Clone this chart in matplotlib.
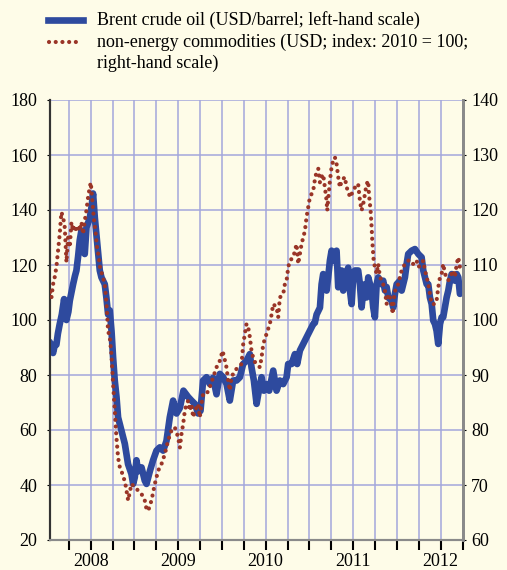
import numpy as np
import matplotlib.pyplot as plt
from matplotlib.lines import Line2D

# Brent crude oil, USD per barrel (left-hand scale), time in decimal years
brent_t = [2008.032, 2008.050, 2008.070, 2008.090, 2008.108, 2008.125, 2008.146, 2008.170,
           2008.196, 2008.210, 2008.223, 2008.245, 2008.261, 2008.280, 2008.299, 2008.320,
           2008.337, 2008.356, 2008.375, 2008.394, 2008.413, 2008.432, 2008.452, 2008.489,
           2008.509, 2008.527, 2008.547, 2008.566, 2008.584, 2008.604, 2008.623, 2008.661,
           2008.680, 2008.699, 2008.718, 2008.738, 2008.756, 2008.775, 2008.795, 2008.813,
           2008.852, 2008.890, 2008.927, 2008.966, 2008.985, 2009.004, 2009.023, 2009.042,
           2009.081, 2009.118, 2009.138, 2009.176, 2009.213, 2009.252, 2009.290, 2009.328,
           2009.366, 2009.404, 2009.442, 2009.481, 2009.519, 2009.560, 2009.614, 2009.652,
           2009.690, 2009.728, 2009.755, 2009.785, 2009.824, 2009.862, 2009.899, 2009.938,
           2009.976, 2010.014, 2010.053, 2010.090, 2010.128, 2010.167, 2010.205, 2010.242,
           2010.281, 2010.319, 2010.338, 2010.365, 2010.396, 2010.422, 2010.453, 2010.479,
           2010.510, 2010.540, 2010.586, 2010.624, 2010.662, 2010.700, 2010.739, 2010.757,
           2010.796, 2010.834, 2010.860, 2010.891, 2010.929, 2010.967, 2011.005, 2011.043,
           2011.062, 2011.082, 2011.120, 2011.139, 2011.157, 2011.177, 2011.196, 2011.214,
           2011.234, 2011.253, 2011.272, 2011.291, 2011.310, 2011.329, 2011.348, 2011.368,
           2011.386, 2011.405, 2011.443, 2011.463, 2011.482, 2011.500, 2011.520, 2011.557,
           2011.577, 2011.596, 2011.615, 2011.634, 2011.653, 2011.672, 2011.711, 2011.729,
           2011.748, 2011.768, 2011.786, 2011.825, 2011.843, 2011.863, 2011.882, 2011.901,
           2011.939, 2011.958, 2011.977, 2011.997, 2012.034, 2012.054, 2012.072, 2012.091,
           2012.111, 2012.129, 2012.168, 2012.206, 2012.244, 2012.282, 2012.301, 2012.320,
           2012.340, 2012.358, 2012.377, 2012.397, 2012.415, 2012.435, 2012.453, 2012.472,
           2012.492, 2012.511, 2012.529, 2012.549, 2012.568, 2012.587, 2012.606, 2012.626,
           2012.644, 2012.663, 2012.683, 2012.701, 2012.720]
brent_usd = [92.0, 90.0, 88.0, 91.0, 91.0, 95.0, 98.5, 102.0,
             107.6, 103.0, 100.0, 103.0, 107.0, 110.0, 113.0, 116.0,
             118.0, 123.0, 129.0, 132.5, 125.0, 124.0, 133.7, 137.0,
             141.0, 146.0, 137.3, 131.0, 125.0, 118.0, 115.5, 113.0,
             108.0, 102.0, 103.5, 96.0, 86.4, 78.0, 72.0, 64.6,
             59.8, 55.0, 47.6, 44.0, 40.4, 42.8, 49.0, 45.0,
             46.4, 41.6, 40.4, 45.0, 49.0, 52.5, 53.7, 52.5,
             56.0, 64.6, 70.7, 66.0, 68.0, 74.3, 72.0, 70.7,
             69.5, 66.0, 67.0, 78.0, 79.2, 76.7, 79.0, 73.0,
             80.4, 79.2, 76.7, 70.7, 78.0, 78.0, 79.2, 84.0,
             85.2, 87.6, 82.8, 78.0, 69.5, 74.3, 79.2, 74.3,
             76.7, 74.3, 81.6, 74.3, 78.0, 76.7, 79.2, 84.0,
             84.0, 87.6, 84.0, 88.9, 91.3, 93.7, 96.1, 98.5,
             99.0, 102.0, 104.5, 113.0, 116.7, 115.5, 110.7, 115.5,
             121.6, 125.2, 121.6, 124.0, 125.2, 111.9, 115.5, 118.0,
             110.7, 115.5, 119.0, 110.7, 105.8, 115.5, 118.0, 118.0,
             113.0, 104.6, 110.7, 113.0, 108.2, 115.5, 110.7, 104.6,
             101.0, 113.0, 115.5, 113.0, 114.3, 110.7, 112.0, 108.2,
             107.0, 104.6, 109.5, 113.0, 114.3, 110.7, 113.0, 115.5,
             120.4, 124.0, 125.2, 125.8, 124.0, 122.8, 118.0, 115.5,
             113.0, 113.0, 108.2, 105.8, 99.8, 98.5, 96.1, 91.3,
             98.5, 101.0, 101.0, 104.6, 108.2, 110.7, 114.3, 116.7,
             115.5, 114.3, 116.7, 115.5, 109.5]

# non-energy commodities, USD index 2010 = 100 (right-hand scale)
nonenergy_t = [2008.032, 2008.051, 2008.070, 2008.089, 2008.108, 2008.127, 2008.146, 2008.165,
               2008.185, 2008.204, 2008.223, 2008.242, 2008.261, 2008.280, 2008.299, 2008.318,
               2008.337, 2008.356, 2008.375, 2008.394, 2008.413, 2008.432, 2008.451, 2008.470,
               2008.489, 2008.501, 2008.516, 2008.535, 2008.554, 2008.573, 2008.592, 2008.611,
               2008.630, 2008.650, 2008.661, 2008.680, 2008.699, 2008.718, 2008.737, 2008.756,
               2008.775, 2008.794, 2008.813, 2008.833, 2008.852, 2008.871, 2008.890, 2008.909,
               2008.928, 2008.966, 2009.004, 2009.042, 2009.080, 2009.118, 2009.138, 2009.157,
               2009.195, 2009.233, 2009.271, 2009.309, 2009.347, 2009.385, 2009.423, 2009.461,
               2009.499, 2009.519, 2009.538, 2009.557, 2009.576, 2009.595, 2009.614, 2009.633,
               2009.652, 2009.671, 2009.690, 2009.728, 2009.747, 2009.766, 2009.785, 2009.824,
               2009.862, 2009.900, 2009.938, 2009.976, 2010.007, 2010.026, 2010.052, 2010.071,
               2010.090, 2010.109, 2010.147, 2010.185, 2010.224, 2010.243, 2010.262, 2010.281,
               2010.300, 2010.319, 2010.338, 2010.365, 2010.396, 2010.434, 2010.453, 2010.472,
               2010.510, 2010.548, 2010.567, 2010.586, 2010.624, 2010.643, 2010.662, 2010.700,
               2010.719, 2010.739, 2010.758, 2010.777, 2010.815, 2010.834, 2010.853, 2010.872,
               2010.891, 2010.910, 2010.929, 2010.948, 2010.967, 2010.986, 2011.005, 2011.024,
               2011.043, 2011.062, 2011.082, 2011.101, 2011.120, 2011.139, 2011.157, 2011.177,
               2011.196, 2011.203, 2011.234, 2011.253, 2011.272, 2011.291, 2011.310, 2011.329,
               2011.348, 2011.368, 2011.405, 2011.424, 2011.443, 2011.463, 2011.482, 2011.500,
               2011.520, 2011.539, 2011.557, 2011.577, 2011.596, 2011.615, 2011.634, 2011.653,
               2011.672, 2011.680, 2011.699, 2011.711, 2011.718, 2011.726, 2011.734, 2011.748,
               2011.768, 2011.786, 2011.806, 2011.825, 2011.843, 2011.863, 2011.882, 2011.901,
               2011.920, 2011.939, 2011.951, 2011.970, 2011.989, 2012.015, 2012.034, 2012.054,
               2012.072, 2012.091, 2012.129, 2012.149, 2012.168, 2012.206, 2012.225, 2012.244,
               2012.282, 2012.301, 2012.320, 2012.340, 2012.358, 2012.377, 2012.397, 2012.415,
               2012.435, 2012.453, 2012.472, 2012.492, 2012.511, 2012.529, 2012.549, 2012.568,
               2012.587, 2012.606, 2012.626, 2012.644, 2012.663, 2012.683, 2012.701, 2012.720]
nonenergy_idx = [105.0, 104.0, 106.5, 107.8, 109.6, 112.6, 115.6, 119.6,
                 118.7, 116.8, 110.5, 115.0, 113.2, 117.8, 116.2, 117.2,
                 116.2, 116.8, 116.2, 117.8, 115.6, 118.0, 119.9, 122.3,
                 124.1, 125.0, 122.3, 118.7, 116.2, 113.2, 111.4, 109.0,
                 108.4, 107.2, 106.5, 103.0, 98.0, 96.9, 93.8, 88.4,
                 83.5, 78.7, 75.0, 73.2, 72.6, 71.4, 70.8, 69.0,
                 67.2, 70.2, 69.6, 69.0, 68.4, 67.2, 65.6, 65.3,
                 67.2, 70.2, 72.6, 73.8, 75.6, 78.1, 79.9, 80.5,
                 78.7, 76.8, 79.3, 81.1, 83.5, 84.7, 85.3, 83.5,
                 84.7, 82.3, 83.5, 84.7, 82.3, 84.7, 86.5, 86.5,
                 87.8, 89.6, 91.4, 92.6, 94.4, 93.2, 91.4, 89.0,
                 87.2, 89.6, 90.8, 91.4, 92.0, 95.6, 97.5, 99.3,
                 98.7, 96.9, 94.4, 92.6, 92.0, 91.4, 93.2, 95.6,
                 97.5, 99.3, 101.0, 102.9, 102.3, 100.5, 104.1, 104.7,
                 106.5, 107.2, 109.6, 110.8, 111.4, 112.6, 113.8, 110.2,
                 112.0, 113.8, 115.0, 116.2, 118.7, 120.5, 122.3, 122.9,
                 123.5, 125.5, 127.0, 127.5, 125.0, 126.0, 126.5, 124.1,
                 121.7, 119.9, 125.3, 127.8, 129.0, 129.6, 128.4, 126.0,
                 124.1, 125.3, 126.0, 124.1, 123.5, 122.3, 122.9, 123.5,
                 124.1, 124.7, 124.7, 121.7, 119.9, 121.1, 122.9, 124.7,
                 125.3, 122.9, 119.9, 116.8, 114.4, 112.6, 110.8, 109.6,
                 108.4, 110.2, 107.8, 107.2, 106.5, 105.3, 102.9, 104.7,
                 104.1, 102.9, 101.1, 104.7, 105.9, 106.5, 107.8, 109.0,
                 109.6, 110.2, 110.8, 110.8, 110.2, 110.2, 110.8, 109.6,
                 110.2, 110.8, 109.0, 107.8, 106.5, 104.7, 102.9, 102.9,
                 102.9, 103.5, 105.9, 107.8, 108.4, 110.2, 108.4, 107.8,
                 107.2, 107.8, 108.4, 109.0, 107.8, 110.2, 111.4, 109.6]

year_labels = ["2008", "2009", "2010", "2011", "2012"]
legend_lines = ["Brent crude oil (USD/barrel; left-hand scale)",
                "non-energy commodities (USD; index: 2010 = 100;",
                "right-hand scale)"]

bg = "#fefce8"
blue = "#2e4a9e"
red = "#9a3527"
grid_c = "#a3a7dc"
font = "Liberation Serif"
fs = 13

W, H = 507, 570
fig = plt.figure(figsize=(W / 100, H / 100), dpi=100)
fig.patch.set_facecolor(bg)

ax = fig.add_axes([50 / W, 30 / H, 413 / W, 440 / H])
ax.set_facecolor(bg)
ax2 = ax.twinx()

ax.plot(brent_t, brent_usd, color=blue, lw=4.8, solid_joinstyle="round",
        solid_capstyle="round", zorder=3)
ax2.plot(nonenergy_t, nonenergy_idx, color=red, lw=3.0,
         linestyle=(0, (0.01, 1.6)), dash_capstyle="round", zorder=4)

ax.set_xlim(2008.035, 2012.755)
ax.set_ylim(20, 180)
ax2.set_ylim(60, 140)

ax.set_yticks(np.arange(20, 181, 20))
ax2.set_yticks(np.arange(60, 141, 10))

# quarterly ticks/grid, year labels centred on mid-year
ax.xaxis.remove_overlapping_locs = False
ax.set_xticks(np.arange(2008.25, 2012.76, 0.25))
ax.set_xticklabels([])
ax.set_xticks([2008.5 + i for i in range(len(year_labels))], minor=True)
ax.set_xticklabels(year_labels, minor=True)

ax.grid(True, which="major", color=grid_c, lw=1.1)
ax.set_axisbelow(True)

for a in (ax, ax2):
    a.spines["top"].set_visible(False)
    a.spines["left"].set_color("#333333")
    a.spines["left"].set_linewidth(1.5)
    a.spines["right"].set_color("#8a8a8a")
    a.spines["right"].set_linewidth(2)
    a.spines["bottom"].set_color("#8a8a8a")
    a.spines["bottom"].set_linewidth(1.5)

ax.tick_params(axis="y", length=2, pad=7, labelsize=fs, labelfontfamily=font)
ax2.tick_params(axis="y", length=2, pad=4, labelsize=fs, labelfontfamily=font)
ax.tick_params(axis="x", which="major", direction="out", length=7, width=1.5,
               color="black")
ax.tick_params(axis="x", which="minor", length=0, pad=9, labelsize=fs,
               labelfontfamily=font)

# legend drawn by hand in figure pixels
ys = [20, 42, 63]
fig.add_artist(Line2D([48 / W, 83 / W], [1 - ys[0] / H] * 2, color=blue, lw=4.8))
fig.add_artist(Line2D([49 / W, 82 / W], [1 - ys[1] / H] * 2, color=red, lw=3.0,
                      linestyle=(0, (0.01, 1.6)), dash_capstyle="round"))
for txt, y in zip(legend_lines, ys):
    fig.text(97 / W, 1 - y / H, txt, fontsize=fs, family=font, va="center",
             ha="left", color="black")

fig.savefig("out.png", dpi=100, facecolor=bg)
